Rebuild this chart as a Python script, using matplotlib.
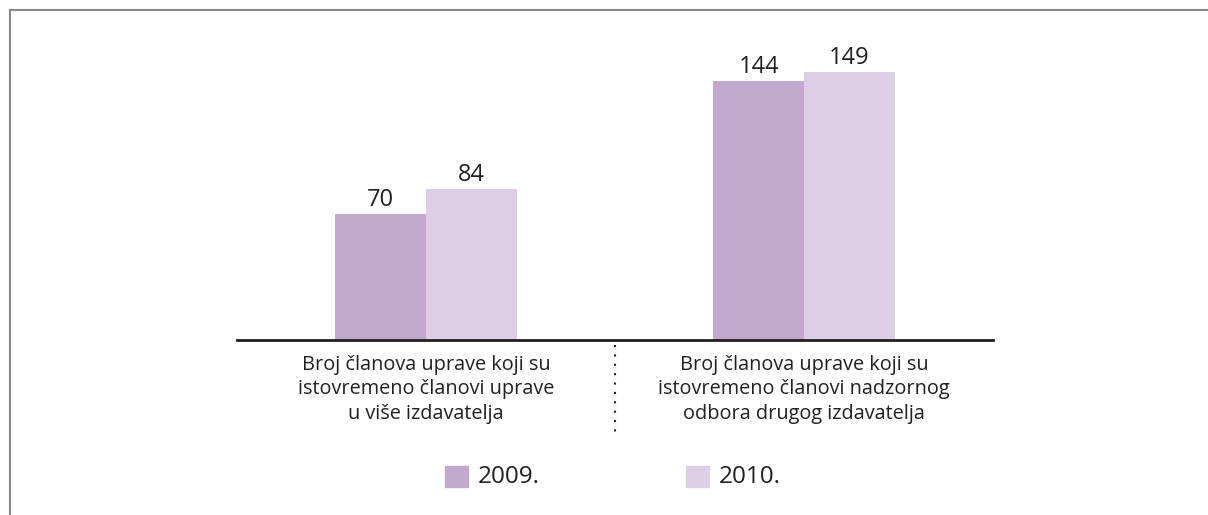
import matplotlib
matplotlib.use("Agg")
import matplotlib.pyplot as plt
from matplotlib.lines import Line2D
from matplotlib.patches import Rectangle
import numpy as np

plt.rcParams['font.family'] = ['Open Sans', 'DejaVu Sans']

categories = ["Broj članova uprave koji su\nistovremeno članovi uprave\nu više izdavatelja",
              "Broj članova uprave koji su\nistovremeno članovi nadzornog\nodbora drugog izdavatelja"]
years = ["2009.", "2010."]
values_2009 = [70, 144]
values_2010 = [84, 149]
colors = ["#c3a8ce", "#dccfe5"]

W, H = 1208, 515
fig = plt.figure(figsize=(W / 100, H / 100), dpi=100)
ax = fig.add_axes([237 / W, 1 - 340 / H, (993 - 237) / W, 330 / H])

x = np.arange(len(categories))
bw = 0.24
b1 = ax.bar(x - bw / 2, values_2009, bw, color=colors[0], zorder=2)
b2 = ax.bar(x + bw / 2, values_2010, bw, color=colors[1], zorder=2)
for bars, vals in ((b1, values_2009), (b2, values_2010)):
    for r, v in zip(bars, vals):
        ax.text(r.get_x() + r.get_width() / 2, v + 1.2, str(v), ha='center', va='bottom',
                fontsize=17, color='#231f20')

ax.set_xlim(-0.5, 1.5)
ax.set_ylim(0, 330 / 1.8)
for s in ['top', 'right', 'left']:
    ax.spines[s].set_visible(False)
ax.spines['bottom'].set_color('#231f20')
ax.spines['bottom'].set_linewidth(2)
ax.spines['bottom'].set_zorder(3)
ax.set_yticks([])
ax.set_xticks(x)
ax.set_xticklabels(categories, fontsize=14.3, color='#231f20', linespacing=1.28)
ax.tick_params(axis='x', length=0, pad=11)

# dotted separator between categories
ax.plot([0.5, 0.5], [-3, -52], transform=ax.transData, clip_on=False,
        color='#231f20', linestyle=(0, (1, 3.5)), linewidth=1.5)

# legend
for i, (lab, c) in enumerate(zip(years, colors)):
    lx = 445 + i * 241
    fig.add_artist(Rectangle((lx / W, 1 - 487 / H), 23 / W, 21 / H, color=c,
                             transform=fig.transFigure))
    fig.text((lx + 33) / W, 1 - 477 / H, lab, fontsize=17.5, color='#231f20', va='center')

# frame lines
fig.add_artist(Line2D([10 / W, 1], [1 - 10 / H, 1 - 10 / H], color='#8a8a8a', linewidth=1.5))
fig.add_artist(Line2D([10 / W, 10 / W], [0, 1 - 10 / H], color='#8a8a8a', linewidth=1.5))

fig.savefig("out.png", dpi=100)
